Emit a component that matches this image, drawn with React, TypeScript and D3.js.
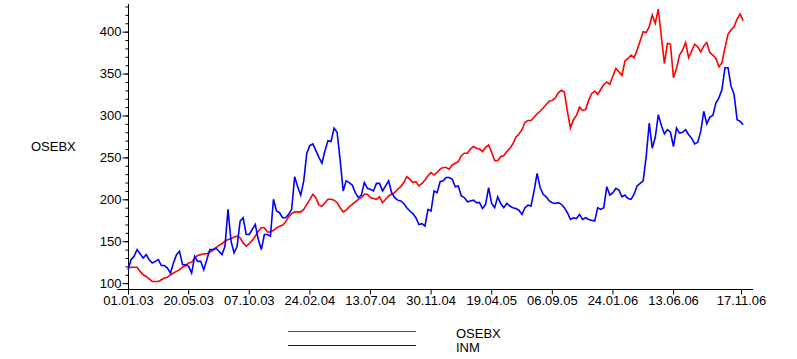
import React, { useRef, useEffect } from "react";
import * as d3 from "d3";

// weekly closes, starting 01.01.03
const startDate = "01.01.03";
const endDate = "17.11.06";

const osebx = [
  118, 119, 119, 119, 114, 110, 108, 105, 102, 102,
  102, 104, 106, 107, 110, 112, 114, 116, 119, 121,
  124, 125, 130, 133, 134, 135, 135, 137, 139, 142,
  145, 147, 150, 152, 153, 155, 156, 154, 148, 144,
  147, 151, 156, 162, 166, 166, 161, 161, 163, 166,
  168, 169, 173, 179, 183, 185, 185, 185, 188, 194,
  200, 206, 202, 193, 192, 196, 200, 200, 199, 196,
  190, 185, 187, 191, 194, 197, 200, 202, 206, 206,
  202, 201, 200, 203, 196, 200, 204, 206, 208, 212,
  215, 220, 227, 224, 220, 221, 216, 219, 223, 228,
  232, 229, 232, 236, 238, 238, 236, 241, 243, 245,
  252, 255, 255, 260, 263, 261, 260, 257, 262, 265,
  256, 246, 246, 251, 252, 257, 261, 266, 274, 278,
  283, 292, 294, 294, 298, 302, 305, 309, 313, 317,
  318, 321, 327, 330, 328, 305, 285, 295, 300, 310,
  306, 307, 318, 326, 329, 325, 331, 337, 340, 337,
  347, 356, 352, 348, 365, 368, 372, 369, 378, 389,
  400, 399, 406, 420, 410, 427, 394, 362, 386, 385,
  345, 356, 372, 378, 387, 369, 377, 385, 382, 376,
  383, 387, 375, 372, 368, 358, 363, 381, 397, 402,
  406, 415, 421, 413,
];

const inm = [
  116, 128, 132, 140, 135, 130, 134, 128, 124, 126,
  128, 121, 121, 118, 112, 124, 134, 138, 122, 122,
  120, 112, 132, 126, 126, 116, 128, 140, 140, 142,
  138, 134, 144, 188, 150, 136, 144, 174, 178, 158,
  158, 164, 170, 152, 140, 158, 158, 156, 200, 186,
  184, 178, 178, 182, 188, 227, 215, 205, 222, 255,
  264, 266, 258, 250, 243, 258, 270, 269, 285, 280,
  247, 210, 222, 220, 217, 208, 202, 205, 220, 213,
  212, 210, 219, 219, 210, 216, 222, 208, 202, 199,
  198, 195, 190, 186, 183, 178, 170, 171, 168, 188,
  186, 210, 208, 221, 222, 226, 226, 224, 215, 216,
  204, 202, 197, 198, 199, 196, 196, 189, 194, 214,
  195, 190, 203, 195, 190, 195, 192, 190, 189, 187,
  182, 190, 193, 192, 210, 231, 214, 206, 203, 198,
  196, 195, 196, 194, 190, 184, 176, 178, 177, 182,
  176, 178, 176, 175, 174, 190, 188, 190, 215, 205,
  208, 213, 211, 203, 205, 201, 200, 206, 216, 219,
  222, 251, 291, 261, 274, 301, 288, 278, 283, 280,
  263, 285, 279, 280, 283, 277, 273, 266, 268, 281,
  305, 290, 298, 300, 315, 321, 331, 357, 357, 335,
  325, 295, 293, 289,
];

const xTickLabels = [
  "01.01.03", "20.05.03", "07.10.03", "24.02.04", "13.07.04", "30.11.04",
  "19.04.05", "06.09.05", "24.01.06", "13.06.06", "17.11.06",
];
const yMajorTicks = [100, 150, 200, 250, 300, 350, 400];
const yMinorTicks = d3.range(100, 431, 10);

const seriesNames = ["OSEBX", "INM"];
const seriesColors = ["#ff0000", "#0000ff"];

const FONT = "'Liberation Sans', Arial, sans-serif";

const App: React.FC = () => {
  const svgRef = useRef<SVGSVGElement | null>(null);

  useEffect(() => {
    if (!svgRef.current) return;
    const svg = d3.select(svgRef.current);
    svg.selectAll("*").remove();

    const parse = d3.timeParse("%d.%m.%y");
    const t0 = parse(startDate)!;

    const x = d3.scaleTime()
      .domain([t0, parse(endDate)!])
      .range([128, 741]);
    const y = d3.scaleLinear().domain([93, 433]).range([289, 4]);

    const toPoints = (vals: number[]) =>
      vals.map((v, i) => ({ date: d3.timeDay.offset(t0, i * 7), value: v }));

    const line = d3.line<{ date: Date; value: number }>()
      .x((d) => x(d.date))
      .y((d) => y(d.value));

    // axis lines
    svg.append("line")
      .attr("x1", 128.5).attr("x2", 128.5)
      .attr("y1", 4).attr("y2", 289)
      .attr("stroke", "#000");
    svg.append("line")
      .attr("x1", 117).attr("x2", 753)
      .attr("y1", 289.5).attr("y2", 289.5)
      .attr("stroke", "#000");

    // y minor ticks
    const yMinor = svg.append("g")
      .attr("transform", "translate(128.5,0)")
      .call(d3.axisLeft(y).tickValues(yMinorTicks).tickSize(3).tickFormat(() => ""));
    yMinor.select(".domain").remove();

    // y major ticks
    const yAxis = svg.append("g")
      .attr("transform", "translate(128.5,0)")
      .call(d3.axisLeft(y).tickValues(yMajorTicks).tickSize(6).tickPadding(1).tickFormat(d3.format("d")));
    yAxis.select(".domain").remove();
    yAxis.selectAll("text").attr("font-family", FONT).attr("font-size", 13).attr("fill", "#000");

    // x axis
    const xAxis = svg.append("g")
      .attr("transform", "translate(0,289.5)")
      .call(
        d3.axisBottom(x)
          .tickValues(xTickLabels.map((s) => parse(s)!))
          .tickSize(5)
          .tickPadding(1)
          .tickFormat((d) => d3.timeFormat("%d.%m.%y")(d as Date))
      );
    xAxis.select(".domain").remove();
    xAxis.selectAll("text").attr("font-family", FONT).attr("font-size", 13).attr("fill", "#000");

    // y axis title
    svg.append("text")
      .attr("x", 31).attr("y", 151)
      .attr("font-family", FONT).attr("font-size", 13)
      .text("OSEBX");

    // series
    [osebx, inm].forEach((vals, k) => {
      svg.append("path")
        .datum(toPoints(vals))
        .attr("fill", "none")
        .attr("stroke", seriesColors[k])
        .attr("stroke-width", 1.6)
        .attr("stroke-linejoin", "miter")
        .attr("d", line);
    });

    // legend
    seriesNames.forEach((name, k) => {
      const ly = 331.5 + k * 14;
      svg.append("line")
        .attr("x1", 288).attr("x2", 416)
        .attr("y1", ly).attr("y2", ly)
        .attr("stroke", seriesColors[k]);
      svg.append("text")
        .attr("x", 456).attr("y", ly + 6)
        .attr("font-family", FONT).attr("font-size", 13)
        .text(name);
    });
  }, []);

  return (
    <svg
      ref={svgRef}
      width={797}
      height={359}
      style={{ position: "absolute", left: 0, top: 0, background: "#fff" }}
    />
  );
};

export default App;
